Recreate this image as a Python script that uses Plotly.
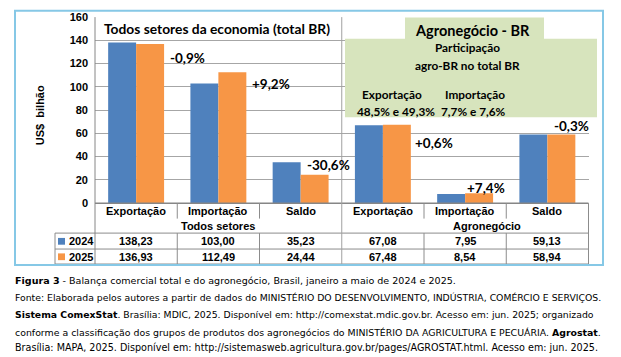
import plotly.graph_objects as go

# ---------------- data ----------------
GROUP_NAMES = ["Todos setores", "Agronegócio"]
CATEGORIES = ["Exportação", "Importação", "Saldo"]
SERIES_NAMES = ["2024", "2025"]
VALUES_2024 = [138.23, 103.00, 35.23, 67.08, 7.95, 59.13]
VALUES_2025 = [136.93, 112.49, 24.44, 67.48, 8.54, 58.94]
Y_TICKS = [0, 20, 40, 60, 80, 100, 120, 140, 160]

TITLE_LEFT = "Todos setores da economia (total BR)"
TITLE_RIGHT = "Agronegócio - BR"
Y_TITLE = "US$  bilhão"
CAPTION_LINES = [
    "<b>Figura 3</b> - Balança comercial total e do agronegócio, Brasil, janeiro a maio de 2024 e 2025.",
    "Fonte: Elaborada pelos autores a partir de dados do MINISTÉRIO DO DESENVOLVIMENTO, INDÚSTRIA, COMÉRCIO E SERVIÇOS.",
    "<b>Sistema ComexStat</b>. Brasília: MDIC, 2025. Disponível em: http://comexstat.mdic.gov.br. Acesso em: jun. 2025; organizado",
    "conforme a classificação dos grupos de produtos dos agronegócios do MINISTÉRIO DA AGRICULTURA E PECUÁRIA. <b>Agrostat</b>.",
    "Brasília: MAPA, 2025. Disponível em: http://sistemasweb.agricultura.gov.br/pages/AGROSTAT.html. Acesso em: jun. 2025.",
]

# ---------------- helpers ----------------
W, H = 621, 357
BLUE = "#4F81BD"
ORANGE = "#F79646"
GREEN = "#D7E4BD"
GRID = "#A6A6A6"
TABLE_LINE = "#8C8C8C"
FONT = "Liberation Sans"
TITLE_FONT = "Lato"
CAP_FONT = "DejaVu Sans"


def px(x):
    return x / W


def py(y):
    return 1 - y / H


def fmt(v, d=2):
    return f"{v:.{d}f}".replace(".", ",")


def pct(v, d=1):
    return f"{v:+.{d}f}%".replace(".", ",")


KEYS = [f"{g}|{c}" for g in GROUP_NAMES for c in CATEGORIES]

X0, X1 = 95, 588.5          # plot area (px)
Y_TOP, Y_ZERO = 11.5, 204    # plot area (px)
CW = (X1 - X0) / len(KEYS)

fig = go.Figure()
fig.add_bar(x=KEYS, y=VALUES_2024, name=SERIES_NAMES[0], marker_color=BLUE,
            marker_line_width=0, showlegend=False)
fig.add_bar(x=KEYS, y=VALUES_2025, name=SERIES_NAMES[1], marker_color=ORANGE,
            marker_line_width=0, showlegend=False)

annotations = []
shapes = []

# change labels
changes = [pct((b - a) / a * 100) for a, b in zip(VALUES_2024, VALUES_2025)]
label_place = [(32, 125), (32, 102.5), (4, 32.5), (30, 51.7), (0, 13), (5, 66)]
for k, txt, (dx, yv) in zip(KEYS, changes, label_place):
    annotations.append(dict(x=k, y=yv, xref="x", yref="y", text=txt, showarrow=False,
                            xanchor="left", yanchor="middle", xshift=dx,
                            font=dict(family=TITLE_FONT, size=13.5, color="#000", weight="bold")))

# titles
annotations.append(dict(x=px(102), y=py(23), xref="paper", yref="paper", text=TITLE_LEFT,
                        showarrow=False, xanchor="left", yanchor="middle",
                        font=dict(family=TITLE_FONT, size=13.8, color="#000", weight="bold")))

# green boxes
shapes.append(dict(type="rect", xref="paper", yref="paper", x0=px(405), x1=px(544),
                   y0=py(35), y1=py(12), fillcolor=GREEN, line_width=0, layer="above"))
shapes.append(dict(type="rect", xref="paper", yref="paper", x0=px(345), x1=px(597),
                   y0=py(115), y1=py(34), fillcolor=GREEN, line_width=0, layer="above"))
annotations.append(dict(x=px(472), y=py(25), xref="paper", yref="paper", text=TITLE_RIGHT,
                        showarrow=False, xanchor="center", yanchor="middle",
                        font=dict(family=TITLE_FONT, size=14.5, color="#000", weight="bold")))
exp_share = f"{fmt(VALUES_2024[3] / VALUES_2024[0] * 100, 1)}% e {fmt(VALUES_2025[3] / VALUES_2025[0] * 100, 1)}%"
imp_share = f"{fmt(VALUES_2024[4] / VALUES_2024[1] * 100, 1)}% e {fmt(VALUES_2025[4] / VALUES_2025[1] * 100, 1)}%"
box_texts = [
    ("Participação", 467, 43),
    ("agro-BR no total BR", 467, 62),
    (CATEGORIES[0], 392, 92),
    (CATEGORIES[1], 475, 92),
    (exp_share, 396, 109),
    (imp_share, 474, 109),
]
for t, x, y in box_texts:
    annotations.append(dict(x=px(x), y=py(y), xref="paper", yref="paper", text=t,
                            showarrow=False, xanchor="center", yanchor="middle",
                            font=dict(family=TITLE_FONT, size=11.8, color="#000", weight="bold")))

# y axis title
annotations.append(dict(x=px(40), y=py(113), xref="paper", yref="paper", text=Y_TITLE,
                        textangle=-90, showarrow=False, xanchor="center", yanchor="middle",
                        font=dict(family=FONT, size=11, color="#000", weight="bold")))

# ---------------- data table ----------------
TFONT = dict(family=FONT, size=11, color="#000", weight="bold")
ROW_CAT, ROW_GRP, ROW_A, ROW_B = 212, 228, 243.5, 259.5
for i, k in enumerate(KEYS):
    annotations.append(dict(x=k, y=py(ROW_CAT), xref="x", yref="paper",
                            text=CATEGORIES[i % 3], showarrow=False,
                            xanchor="center", yanchor="middle", font=TFONT))
    annotations.append(dict(x=k, y=py(ROW_A), xref="x", yref="paper",
                            text=fmt(VALUES_2024[i]), showarrow=False,
                            xanchor="center", yanchor="middle", font=TFONT))
    annotations.append(dict(x=k, y=py(ROW_B), xref="x", yref="paper",
                            text=fmt(VALUES_2025[i]), showarrow=False,
                            xanchor="center", yanchor="middle", font=TFONT))
grp_centers = [218, 487]
for g, cx in zip(GROUP_NAMES, grp_centers):
    annotations.append(dict(x=px(cx), y=py(ROW_GRP), xref="paper", yref="paper",
                            text=g, showarrow=False, xanchor="center", yanchor="middle",
                            font=TFONT))
# legend keys in table
for name, col, yc in zip(SERIES_NAMES, [BLUE, ORANGE], [ROW_A, ROW_B]):
    shapes.append(dict(type="rect", xref="paper", yref="paper", x0=px(58), x1=px(65),
                       y0=py(yc + 3.5), y1=py(yc - 3.5), fillcolor=col, line_width=0))
    annotations.append(dict(x=px(67), y=py(yc), xref="paper", yref="paper", text=name,
                            showarrow=False, xanchor="left", yanchor="middle", font=TFONT))


def hline(y, xa, xb, color=TABLE_LINE, w=1):
    shapes.append(dict(type="line", xref="paper", yref="paper", x0=px(xa), x1=px(xb),
                       y0=py(y), y1=py(y), line=dict(color=color, width=w), layer="above"))


def vline(x, ya, yb, color=TABLE_LINE, w=1):
    shapes.append(dict(type="line", xref="paper", yref="paper", x0=px(x), x1=px(x),
                       y0=py(ya), y1=py(yb), line=dict(color=color, width=w), layer="above"))


hline(Y_ZERO, X0, X1, "#868686", 1.5)
hline(235, 55, X1)
hline(251.5, 55, X1)
hline(267, 55, X1)
vline(55, 235, 267)
vline(X0, Y_TOP, 267, "#868686", 1)
vline(X1, Y_ZERO, 267)
vline(X0 + 3 * CW, Y_TOP, 267, "#A0A0A0", 1)
for j in [1, 2, 4, 5]:
    xb = X0 + j * CW
    vline(xb, Y_ZERO, 220)
    vline(xb, 235, 267)

# outer frame
shapes.append(dict(type="rect", xref="paper", yref="paper", x0=px(15), x1=px(603),
                   y0=py(268), y1=py(5), line=dict(color="#86C8E6", width=2),
                   fillcolor="rgba(0,0,0,0)", layer="above"))

# caption (lines 2-5 are justified in the source; sizes tuned to the same width)
cap_y = [284, 301.5, 319, 337.5, 353.5]
cap_size = [9.55, 9.3, 9.3, 9.38, 9.62]
for t, y, s in zip(CAPTION_LINES, cap_y, cap_size):
    annotations.append(dict(x=px(13), y=py(y), xref="paper", yref="paper", text=t,
                            showarrow=False, xanchor="left", yanchor="middle",
                            font=dict(family=CAP_FONT, size=s, color="#000")))

fig.update_layout(
    width=W, height=H,
    margin=dict(l=0, r=0, t=0, b=0),
    paper_bgcolor="white", plot_bgcolor="white",
    barmode="group", bargap=0.32, bargroupgap=0,
    xaxis=dict(domain=[px(X0), px(X1)], showticklabels=False, showgrid=False,
               zeroline=False, showline=False, ticks="", categoryorder="array",
               categoryarray=KEYS, range=[-0.5, len(KEYS) - 0.5], fixedrange=True),
    yaxis=dict(domain=[py(Y_ZERO), py(Y_TOP)], range=[0, 160], tickvals=Y_TICKS,
               showgrid=True, gridcolor=GRID, gridwidth=1, zeroline=False,
               showline=False, ticks="", ticklabelstandoff=6,
               tickfont=dict(family=FONT, size=11, color="#000", weight="bold"),
               fixedrange=True),
    annotations=annotations,
    shapes=shapes,
)

fig.write_html("out.html", config={"displayModeBar": False},
               post_script="document.body.style.margin='0';document.body.style.overflow='hidden';")
